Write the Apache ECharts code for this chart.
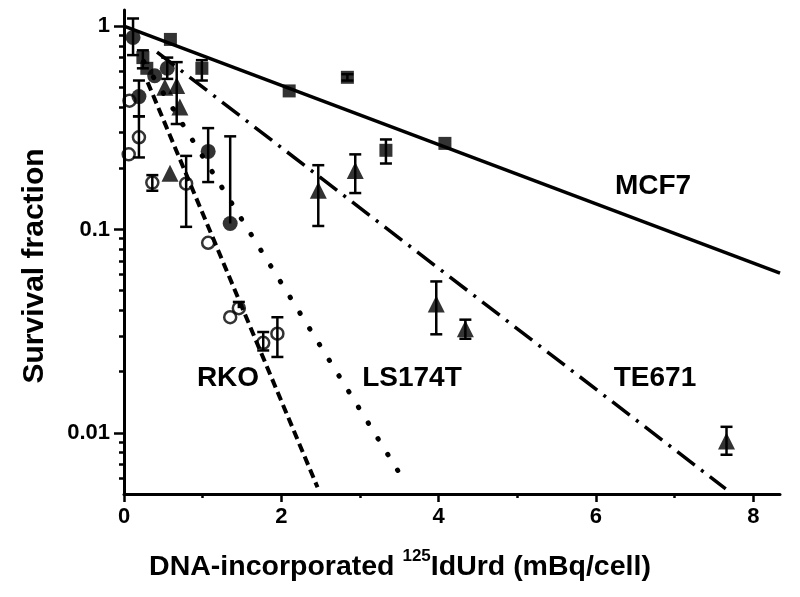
<!DOCTYPE html>
<html><head><meta charset="utf-8">
<script src="https://cdn.jsdelivr.net/npm/echarts@6/dist/echarts.min.js"></script>
<style>html,body{margin:0;padding:0;background:#fff}#c{width:800px;height:597px}</style>
</head><body><div id="c"></div>
<script>
const FONT = '"Liberation Sans", Arial, sans-serif';

// Axis ticks
const xTicks = [0, 2, 4, 6, 8];
const xMinorTicks = [1, 3, 5, 7];
const yTicks = [0.01, 0.1, 1];
const yMinorTicks = [0.006, 0.007, 0.008, 0.009, 0.02, 0.03, 0.04, 0.05, 0.06, 0.07, 0.08, 0.09,
                     0.2, 0.3, 0.4, 0.5, 0.6, 0.7, 0.8, 0.9];

// MCF7 (filled squares)
const mcf7X  = [0.24, 0.29, 0.59, 0.99, 2.10, 2.84, 3.33, 4.08];
const mcf7Y  = [0.70, 0.62, 0.86, 0.62, 0.48, 0.56, 0.245, 0.265];
const mcf7Lo = [0.62, null, null, 0.54, null, 0.54, 0.211, null];
const mcf7Hi = [0.76, null, null, 0.68, null, 0.58, 0.277, null];

// LS174T (filled circles)
const lsX  = [0.115, 0.19, 0.39, 0.55, 1.07, 1.35];
const lsY  = [0.88, 0.45, 0.57, 0.62, 0.242, 0.107];
const lsLo = [0.72, 0.36, null, 0.55, 0.171, null];
const lsHi = [1.09, 0.54, null, 0.70, 0.315, 0.287];

// TE671 (filled triangles)
const teX  = [0.52, 0.585, 0.67, 0.71, 2.47, 2.94, 3.97, 4.34, 7.66];
const teY  = [0.50, 0.189, 0.51, 0.40, 0.156, 0.195, 0.043, 0.0325, 0.0091];
const teLo = [null, null, 0.33, null, 0.104, 0.151, 0.0305, 0.029, 0.0078];
const teHi = [null, null, 0.665, null, 0.207, 0.234, 0.0555, 0.036, 0.0107];

// RKO (open circles)
const rkoX  = [0.06, 0.07, 0.19, 0.36, 0.79, 1.07, 1.35, 1.46, 1.77, 1.95];
const rkoY  = [0.234, 0.43, 0.284, 0.17, 0.168, 0.086, 0.037, 0.041, 0.0277, 0.0307];
const rkoLo = [null, null, 0.226, 0.155, 0.103, null, null, null, 0.0254, 0.0236];
const rkoHi = [null, null, 0.36, 0.185, 0.23, null, null, 0.044, 0.0313, 0.037];

// Fitted lines (visible end points)
const mcf7FitX = [0, 8.34];     const mcf7FitY = [1, 0.061];
const teFitX   = [0.42, 7.65];  const teFitY   = [0.745, 0.0053];
const lsFitX   = [0.25, 3.575]; const lsFitY   = [0.67, 0.0057];
const rkoFitX  = [0.3, 2.46];   const rkoFitY  = [0.53, 0.0054];

const zip = (a, b) => a.map((v, i) => [v, b[i]]);

function fitLine(xs, ys, type, width, cap) {
  return { type: 'line', data: zip(xs, ys), symbol: 'none', silent: true, z: 2,
    lineStyle: { color: '#000', width: width, type: type, cap: cap || 'butt' } };
}
function errSeries(xs, ys, lo, hi) {
  const data = [];
  xs.forEach((x, i) => {
    if (lo[i] != null || hi[i] != null) {
      data.push([x, lo[i] != null ? lo[i] : ys[i], hi[i] != null ? hi[i] : ys[i], lo[i] != null ? 1 : 0, hi[i] != null ? 1 : 0]);
    }
  });
  return { type: 'custom', data: data, encode: { x: 0, y: [1, 2] }, z: 3, silent: true,
    renderItem: function (params, api) {
      const x = api.value(0);
      const pl = api.coord([x, api.value(1)]);
      const ph = api.coord([x, api.value(2)]);
      const w = 6, st = { stroke: '#000', lineWidth: 2.5 };
      const ch = [{ type: 'line', shape: { x1: pl[0], y1: pl[1], x2: ph[0], y2: ph[1] }, style: st }];
      if (api.value(3)) ch.push({ type: 'line', shape: { x1: pl[0] - w, y1: pl[1], x2: pl[0] + w, y2: pl[1] }, style: st });
      if (api.value(4)) ch.push({ type: 'line', shape: { x1: ph[0] - w, y1: ph[1], x2: ph[0] + w, y2: ph[1] }, style: st });
      return { type: 'group', children: ch };
    } };
}
function markers(xs, ys, symbol, size, open) {
  return { type: 'scatter', data: zip(xs, ys), symbol: symbol, symbolSize: size, z: 4, silent: true,
    itemStyle: open ? { color: 'rgba(0,0,0,0)', borderColor: '#000', borderWidth: 2.5 } : { color: '#000' } };
}

const axisLineStyle = { color: '#000', width: 3 };
const tickStyle = { color: '#000', width: 2.5 };
const labelStyle = { color: '#000', fontSize: 22, fontWeight: 'bold', fontFamily: FONT };

const option = {
  animation: false,
  backgroundColor: '#fff',
  grid: { left: 124, right: 20, top: 10, bottom: 103, containLabel: false },
  xAxis: [
    { type: 'value', min: 0, max: 8.34, position: 'bottom',
      axisLine: { lineStyle: axisLineStyle }, splitLine: { show: false },
      axisTick: { customValues: xTicks, length: 8, lineStyle: tickStyle },
      axisLabel: Object.assign({ customValues: xTicks, margin: 12 }, labelStyle) },
    { type: 'value', min: 0, max: 8.34, position: 'bottom',
      axisLine: { show: false }, splitLine: { show: false },
      axisTick: { customValues: xMinorTicks, length: 4, lineStyle: tickStyle },
      axisLabel: { show: false } }
  ],
  yAxis: [
    { type: 'log', logBase: 10, min: 0.005, max: 1.2, position: 'left',
      axisLine: { lineStyle: axisLineStyle }, splitLine: { show: false },
      axisTick: { customValues: yTicks, length: 10, lineStyle: tickStyle },
      axisLabel: Object.assign({ customValues: yTicks, margin: 14, formatter: v => String(v) }, labelStyle) },
    { type: 'log', logBase: 10, min: 0.005, max: 1.2, position: 'left',
      axisLine: { show: false }, splitLine: { show: false },
      axisTick: { customValues: yMinorTicks, length: 5, lineStyle: tickStyle },
      axisLabel: { show: false } }
  ],
  series: [
    fitLine(mcf7FitX, mcf7FitY, 'solid', 3.5),
    fitLine(teFitX, teFitY, [22, 8, 3, 8], 3.5),
    fitLine(lsFitX, lsFitY, [0.5, 18], 5, 'round'),
    fitLine(rkoFitX, rkoFitY, [9, 5], 4),
    errSeries(mcf7X, mcf7Y, mcf7Lo, mcf7Hi),
    errSeries(lsX, lsY, lsLo, lsHi),
    errSeries(teX, teY, teLo, teHi),
    errSeries(rkoX, rkoY, rkoLo, rkoHi),
    markers(mcf7X, mcf7Y, 'rect', 13),
    markers(lsX, lsY, 'circle', 15),
    markers(teX, teY, 'triangle', 17),
    markers(rkoX, rkoY, 'circle', 12, true)
  ],
  graphic: [
    { type: 'text', x: 400, y: 565, style: {
        text: '{a|DNA-incorporated }{s|125}{a|IdUrd (mBq/cell)}', align: 'center', verticalAlign: 'middle',
        rich: { a: { fontSize: 28.5, fontWeight: 'bold', fontFamily: FONT, fill: '#000', verticalAlign: 'bottom', lineHeight: 34 },
                s: { fontSize: 17, fontWeight: 'bold', fontFamily: FONT, fill: '#000', verticalAlign: 'top', lineHeight: 34 } } } },
    { type: 'text', x: 35, y: 266, rotation: Math.PI / 2, style: {
        text: 'Survival fraction', align: 'center', verticalAlign: 'middle',
        fontSize: 30, fontWeight: 'bold', fontFamily: FONT, fill: '#000' } },
    { type: 'text', x: 653, y: 186, style: { text: 'MCF7', align: 'center', verticalAlign: 'middle', fontSize: 28, fontWeight: 'bold', fontFamily: FONT, fill: '#000' } },
    { type: 'text', x: 655, y: 378, style: { text: 'TE671', align: 'center', verticalAlign: 'middle', fontSize: 28, fontWeight: 'bold', fontFamily: FONT, fill: '#000' } },
    { type: 'text', x: 412, y: 378, style: { text: 'LS174T', align: 'center', verticalAlign: 'middle', fontSize: 28, fontWeight: 'bold', fontFamily: FONT, fill: '#000' } },
    { type: 'text', x: 228, y: 378, style: { text: 'RKO', align: 'center', verticalAlign: 'middle', fontSize: 28, fontWeight: 'bold', fontFamily: FONT, fill: '#000' } }
  ]
};
const chart = echarts.init(document.getElementById('c'), null, { renderer: 'canvas' });
chart.setOption(option);
</script>
</body></html>
